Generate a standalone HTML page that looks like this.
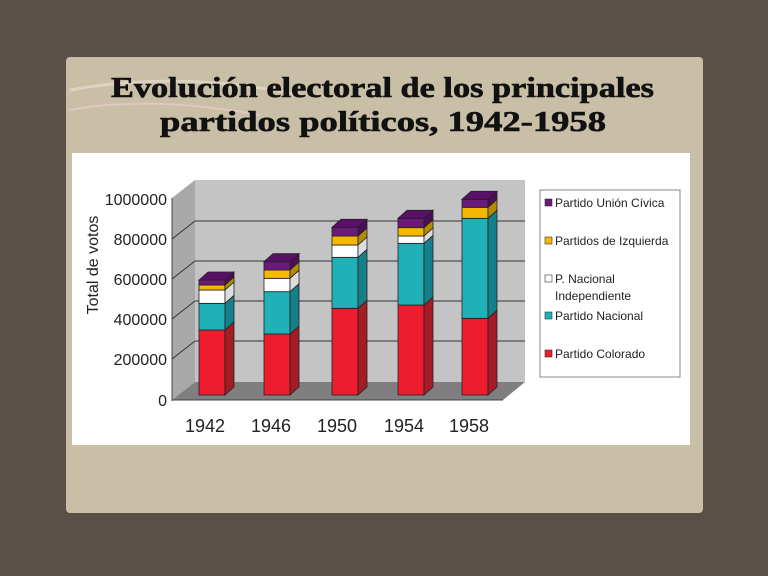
<!DOCTYPE html>
<html><head><meta charset="utf-8"><style>
body{margin:0;width:768px;height:576px;background:#5b5047;overflow:hidden;font-family:"Liberation Sans",sans-serif}
</style></head><body>
<svg width="768" height="576" xmlns="http://www.w3.org/2000/svg" style="position:absolute;left:0;top:0">
<rect x="66" y="57" width="637" height="456" rx="4" fill="#c9bea6"/>
<path d="M70 90 Q180 70 300 95" stroke="#dcd3c0" stroke-width="3" fill="none"/>
<path d="M70 110 Q150 95 260 115" stroke="#e0c8c0" stroke-width="2" fill="none"/>
<text x="111" y="97" textLength="543" lengthAdjust="spacingAndGlyphs" font-family="Liberation Serif,serif" font-weight="bold" font-size="28" fill="#111" stroke="#111" stroke-width="0.6">Evolución electoral de los principales</text>
<text x="160" y="131" textLength="446" lengthAdjust="spacingAndGlyphs" font-family="Liberation Serif,serif" font-weight="bold" font-size="28" fill="#111" stroke="#111" stroke-width="0.6">partidos políticos, 1942-1958</text>
<rect x="72" y="153" width="618" height="292" fill="#fff"/>
<polygon points="195,180 525,180 525,382 195,382" fill="#c4c4c4"/>
<polygon points="172,198 195,180 195,382 172,400" fill="#a8a8a8"/>
<polygon points="172,400 195,382 525,382 503,400" fill="#7f7f7f"/>
<g stroke="#333" stroke-width="1">
<line x1="195" y1="221" x2="525" y2="221"/><line x1="195" y1="261" x2="525" y2="261"/>
<line x1="195" y1="301" x2="525" y2="301"/><line x1="195" y1="341" x2="525" y2="341"/>
<line x1="172" y1="239" x2="195" y2="221"/><line x1="172" y1="279" x2="195" y2="261"/>
<line x1="172" y1="319" x2="195" y2="301"/><line x1="172" y1="359" x2="195" y2="341"/>
</g>
<line x1="172" y1="198" x2="172" y2="401" stroke="#444"/>
<line x1="172" y1="400" x2="503" y2="400" stroke="#444"/>
<g id="bars" stroke="#222" stroke-width="0.8"></g>
<g font-size="16" fill="#222" text-anchor="end">
<text x="167" y="205">1000000</text><text x="167" y="245">800000</text><text x="167" y="285">600000</text>
<text x="167" y="325">400000</text><text x="167" y="365">200000</text><text x="167" y="406">0</text>
</g>
<text transform="translate(98,265) rotate(-90)" text-anchor="middle" font-size="16" fill="#222">Total de votos</text>
<g font-size="18" fill="#222" text-anchor="middle">
<text x="205" y="432">1942</text><text x="271" y="432">1946</text><text x="337" y="432">1950</text>
<text x="404" y="432">1954</text><text x="469" y="432">1958</text>
</g>
<rect x="540" y="190" width="140" height="187" fill="#fff" stroke="#888"/>
<g font-size="12" fill="#222">
<rect x="545" y="199" width="7" height="7" fill="#6b1a7a" stroke="#333" stroke-width=".6"/><text x="555" y="207">Partido Unión Cívica</text>
<rect x="545" y="237" width="7" height="7" fill="#f5b800" stroke="#333" stroke-width=".6"/><text x="555" y="245">Partidos de Izquierda</text>
<rect x="545" y="275" width="7" height="7" fill="#fff" stroke="#333" stroke-width=".6"/><text x="555" y="283">P. Nacional</text><text x="555" y="300">Independiente</text>
<rect x="545" y="312" width="7" height="7" fill="#1fb0b8" stroke="#333" stroke-width=".6"/><text x="555" y="320">Partido Nacional</text>
<rect x="545" y="350" width="7" height="7" fill="#ee1c2e" stroke="#333" stroke-width=".6"/><text x="555" y="358">Partido Colorado</text>
</g>
</svg>
<script>
var cols=[["#ee1c2e","#a51d24"],["#1fb0b8","#16808a"],["#ffffff","#dddddd"],["#f5b800","#b58a00"],["#6b1a7a","#4a1055"]];
var bars=[[199,[540,460,420,405,390]],[264,[552,425,385,360,335]],[332,[475,322,285,258,232]],[398,[465,280,258,233,205]],[462,[505,205,205,172,148]]];
var g=document.getElementById('bars'),s='',w=26,dx=9,dy=-8,base=395;
bars.forEach(function(b){var x=b[0],prev=base;b[1].forEach(function(z,i){var y=150+z/3;if(y<prev){
s+='<rect x="'+x+'" y="'+y+'" width="'+w+'" height="'+(prev-y)+'" fill="'+cols[i][0]+'"/>';
s+='<polygon points="'+(x+w)+','+y+' '+(x+w+dx)+','+(y+dy)+' '+(x+w+dx)+','+(prev+dy)+' '+(x+w)+','+prev+'" fill="'+cols[i][1]+'"/>';}
prev=Math.min(prev,y);});
s+='<polygon points="'+x+','+prev+' '+(x+dx)+','+(prev+dy)+' '+(x+w+dx)+','+(prev+dy)+' '+(x+w)+','+prev+'" fill="#5a1068"/>';});
g.innerHTML=s;
</script>
</body></html>
